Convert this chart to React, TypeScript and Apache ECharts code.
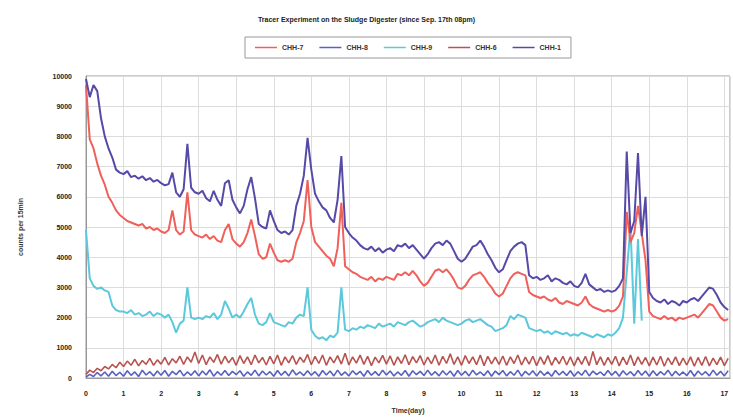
import React, { useEffect, useRef } from "react";
import * as echarts from "echarts";

const TITLE = "Tracer Experiment on the Sludge Digester (since Sep. 17th 08pm)";
const X_NAME = "Time(day)";
const Y_NAME = "counts per 15min";
const SERIES_NAMES = ["CHH-7", "CHH-8", "CHH-9", "CHH-6", "CHH-1"];
const STEP_DAYS = 0.1;

// CHH-7 (red, second from top)
const chh7 = [
  9700, 7900, 7600, 7100, 6700, 6400, 6000, 5800, 5550, 5400,
  5300, 5200, 5150, 5100, 5050, 5100, 4950, 5000, 4900, 4950,
  4850, 4800, 4900, 5550, 4900, 4750, 4850, 6150, 4900, 4750,
  4700, 4650, 4750, 4600, 4700, 4550, 4500, 4900, 5100, 4600,
  4450, 4350, 4500, 4800, 5250, 4700, 4100, 3950, 4000, 4450,
  4150, 3900, 3850, 3900, 3850, 3950, 4500, 4800, 5200, 6550,
  5000, 4500, 4350, 4200, 4050, 3950, 3700, 4300, 5800, 3700,
  3600, 3500, 3450, 3350, 3300, 3250, 3350, 3200, 3300, 3250,
  3350, 3300, 3250, 3450, 3400, 3500, 3400, 3550, 3400, 3200,
  3050, 3150, 3350, 3550, 3600, 3500, 3600, 3450, 3250, 3000,
  2950, 3050, 3250, 3400, 3450, 3500, 3350, 3150, 3000, 2800,
  2700, 2800, 3050, 3300, 3450, 3500, 3450, 3400, 2850, 2750,
  2700, 2650, 2700, 2600, 2550, 2650, 2500, 2450, 2550, 2500,
  2450, 2400, 2500, 2700, 2450, 2350, 2300, 2250, 2200, 2250,
  2200, 2250, 2400, 2700, 5500, 4500, 4800, 5700, 4800, 3900,
  2200, 2050, 2000, 1950, 2050, 1950, 2000, 1900, 2000, 1950,
  2000, 2050, 2100, 2000, 2150, 2300, 2450, 2400, 2200, 2000,
  1900, 1950,
];

// CHH-8 (blue, bottom band)
const chh8 = [
  30, 120, 50, 180, 70, 200, 60, 220, 80, 190,
  60, 240, 90, 200, 50, 260, 100, 210, 70, 230,
  90, 250, 60, 220, 110, 260, 70, 200, 90, 240,
  70, 230, 100, 270, 60, 210, 90, 250, 80, 220,
  110, 240, 60, 200, 90, 260, 70, 230, 100, 210,
  60, 250, 90, 220, 70, 270, 100, 200, 80, 240,
  90, 210, 60, 250, 100, 230, 70, 260, 90, 200,
  70, 240, 110, 220, 60, 250, 90, 210, 80, 260,
  100, 230, 70, 200, 90, 250, 60, 240, 110, 220,
  80, 260, 90, 210, 70, 240, 100, 230, 60, 250,
  90, 220, 70, 260, 100, 200, 80, 240, 60, 230,
  110, 250, 70, 210, 90, 260, 60, 220, 100, 240,
  70, 230, 90, 200, 60, 250, 100, 220, 80, 240,
  60, 210, 90, 260, 70, 230, 110, 200, 80, 250,
  90, 220, 60, 240, 100, 210, 70, 250, 90, 230,
  60, 240, 80, 210, 100, 260, 70, 220, 90, 200,
  80, 250, 60, 230, 100, 210, 70, 260, 90, 220,
  70, 240,
];

// CHH-9 (cyan), ends near day 14.8
const chh9 = [
  4900, 3300, 3050, 2950, 3000, 2900, 2850, 2400, 2250, 2200,
  2200, 2150, 2250, 2100, 2150, 2050, 2100, 2200, 2050, 2150,
  2100, 2000, 2100, 1850, 1500, 1800, 1900, 3000, 2000, 1950,
  2000, 1950, 2050, 2000, 2150, 1950, 2100, 2550, 2300, 2000,
  2100, 2000, 2200, 2450, 2650, 2100, 1800, 1750, 1850, 2150,
  1850, 1800, 1750, 1700, 1850, 1800, 2000, 2100, 2050, 3000,
  1600, 1400, 1300, 1350, 1250, 1400, 1350, 1500, 3000, 1600,
  1550, 1650, 1600, 1700, 1650, 1750, 1700, 1650, 1800, 1700,
  1750, 1800, 1700, 1850, 1800, 1750, 1850, 1900, 1800, 1700,
  1750, 1850, 1900, 1950, 1850, 2000, 1900, 1850, 1800, 1750,
  1800, 1900, 1950, 1850, 1900, 1950, 1850, 1750, 1700, 1550,
  1600, 1650, 1750, 2050, 1950, 2100, 2050, 2000, 1650, 1600,
  1550, 1600, 1500, 1550, 1450, 1550, 1500, 1450, 1500, 1400,
  1450, 1400, 1500, 1450, 1400, 1350, 1450, 1400, 1350, 1450,
  1400, 1500, 1650, 2000, 3500, 5000, 1800, 4600, 1900,
];

// CHH-6 (red-brown, lower band)
const chh6 = [
  120, 260, 180, 320, 240, 380, 300, 450, 340, 520,
  380, 560, 420, 620, 400, 580, 450, 650, 420, 600,
  460, 680, 430, 640, 500, 720, 450, 700, 520, 860,
  480, 760, 440, 700, 520, 780, 460, 720, 500, 680,
  420, 740, 480, 700, 440, 760, 500, 680, 430, 720,
  470, 760, 420, 700, 500, 740, 450, 690, 520, 780,
  440, 720, 480, 760, 420, 700, 500, 740, 460, 820,
  430, 700, 490, 760, 450, 720, 410, 690, 500, 750,
  460, 730, 420, 700, 480, 770, 440, 710, 500, 740,
  430, 690, 470, 760, 420, 720, 480, 800, 450, 700,
  420, 740, 480, 700, 440, 760, 410, 720, 470, 690,
  450, 730, 420, 700, 480, 760, 430, 690, 460, 720,
  410, 700, 450, 740, 420, 680, 470, 720, 430, 700,
  400, 690, 450, 720, 410, 880, 440, 700, 420, 680,
  450, 720, 400, 690, 440, 760, 410, 700, 450, 680,
  400, 690, 430, 720, 390, 670, 440, 700, 410, 660,
  430, 700, 390, 680, 420, 710, 400, 660, 440, 690,
  410, 650,
];

// CHH-1 (purple-blue, top)
const chh1 = [
  9900, 9300, 9700, 9500, 8600, 8000, 7600, 7300, 6900, 6800,
  6750, 6850, 6650, 6700, 6600, 6680, 6550, 6620, 6500, 6560,
  6450, 6380, 6420, 6800, 6150, 6000, 6250, 7750, 6300, 6150,
  6100, 6200, 5950, 5850, 6200, 5900, 5700, 6450, 6550, 5900,
  5650, 5450, 5700, 6250, 6650, 5950, 5100, 5000, 4950, 5550,
  5200, 4900, 4800, 4850, 4750, 4900, 5700, 6100, 6700, 7950,
  6900, 6100, 5850, 5650, 5550, 5300, 5150, 5900, 7350, 5000,
  4800, 4650, 4550, 4400, 4300, 4250, 4350, 4200, 4300, 4150,
  4250, 4300, 4200, 4400, 4350, 4450, 4300, 4400, 4250, 4100,
  3950, 4100, 4300, 4450, 4500, 4400, 4550, 4450, 4200, 3950,
  3850, 3950, 4150, 4350, 4400, 4550, 4350, 4100, 3900, 3650,
  3500, 3600, 3900, 4200, 4350, 4450, 4500, 4400, 3400, 3300,
  3350, 3250, 3300, 3400, 3200, 3300, 3250, 3150, 3100, 3200,
  3050, 3000, 3150, 3450, 3100, 3000, 2900, 2950, 2850, 2900,
  2850, 2900, 3050, 3300, 7500, 4800, 5200, 7450, 4700, 6000,
  2850, 2650, 2550, 2500, 2600, 2450, 2550, 2500, 2400, 2550,
  2500, 2600, 2650, 2550, 2700, 2850, 3000, 2950, 2750, 2500,
  2350, 2250,
];

const SERIES_VALUES = [chh7, chh8, chh9, chh6, chh1];
const SERIES_COLORS = ["#F0605A", "#5A5FC0", "#5CC8DC", "#B85450", "#554AA8"];
const SERIES_Z = [4, 2, 3, 3, 5];
const SERIES_WIDTHS = [2, 1.6, 2, 1.6, 2];

const toPairs = (vals: number[]) =>
  vals.map((v, i) => [Math.round(i * STEP_DAYS * 100) / 100, v]);

export default function App() {
  const ref = useRef<HTMLDivElement>(null);
  useEffect(() => {
    document.body.style.margin = "0";
    if (!ref.current) return;
    const chart = echarts.init(ref.current, null, { renderer: "svg" });
    const font = "Arial, 'Liberation Sans', sans-serif";
    chart.setOption({
      animation: false,
      backgroundColor: "#ffffff",
      title: {
        text: TITLE,
        left: "center",
        top: 11,
        textStyle: { fontSize: 7, fontWeight: "bold", color: "#222", fontFamily: font },
      },
      legend: {
        data: SERIES_NAMES,
        left: 245,
        top: 37,
        padding: [7, 10],
        borderColor: "#999",
        borderWidth: 1,
        itemWidth: 22,
        itemHeight: 1.5,
        itemGap: 16,
        icon: "rect",
        textStyle: { fontSize: 7, fontWeight: "bold", color: "#333", fontFamily: font },
      },
      grid: {
        left: 86,
        right: 3,
        top: 76,
        bottom: 42,
        show: true,
        borderColor: "#999",
        borderWidth: 1,
      },
      xAxis: {
        type: "value",
        min: 0,
        max: 17.15,
        interval: 1,
        name: X_NAME,
        nameLocation: "middle",
        nameGap: 29,
        nameTextStyle: { fontSize: 7, fontWeight: "bold", color: "#333", fontFamily: font },
        axisLine: { lineStyle: { color: "#999" } },
        axisTick: { show: false },
        axisLabel: {
          fontSize: 7,
          fontWeight: "bold",
          color: "#222",
          fontFamily: font,
          margin: 12,
          formatter: (v: number) => (Number.isInteger(v) ? String(v) : ""),
        },
        splitLine: { show: true, lineStyle: { color: "#dcdcdc", width: 1 } },
      },
      yAxis: {
        type: "value",
        min: 0,
        max: 10000,
        interval: 1000,
        name: Y_NAME,
        nameLocation: "middle",
        nameGap: 62,
        nameTextStyle: { fontSize: 7, fontWeight: "bold", color: "#333", fontFamily: font },
        axisLine: { show: true, lineStyle: { color: "#999" } },
        axisTick: { show: false },
        axisLabel: {
          fontSize: 7,
          fontWeight: "bold",
          color: "#222",
          fontFamily: font,
          margin: 14,
          formatter: (v: number) => String(v),
        },
        splitLine: { show: true, lineStyle: { color: "#dcdcdc", width: 1 } },
      },
      series: SERIES_NAMES.map((name, i) => ({
        name,
        type: "line",
        data: toPairs(SERIES_VALUES[i]),
        symbol: "none",
        z: SERIES_Z[i],
        color: SERIES_COLORS[i],
        lineStyle: { width: SERIES_WIDTHS[i], color: SERIES_COLORS[i] },
      })),
    });
    return () => chart.dispose();
  }, []);
  return <div ref={ref} style={{ width: 733, height: 420 }} />;
}
